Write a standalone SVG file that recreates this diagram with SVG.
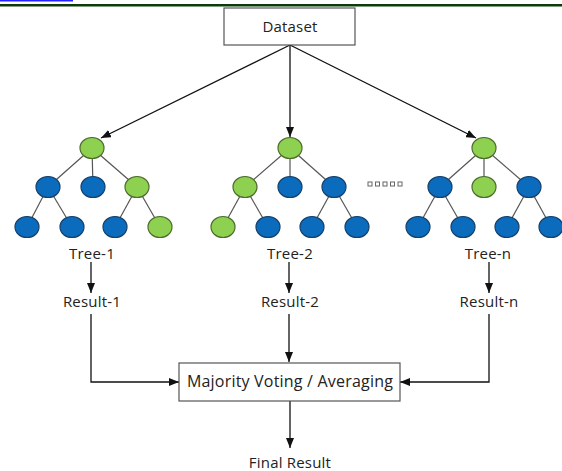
<svg xmlns="http://www.w3.org/2000/svg" width="562" height="471" viewBox="0 0 562 471">
<style>
text{font-family:"Open Sans","Noto Sans","Liberation Sans",sans-serif;font-size:15px;fill:#222;text-anchor:middle;dominant-baseline:central;letter-spacing:0.2px}
.box{fill:#fff;stroke:#555;stroke-width:1.2}
.c{stroke:#111;stroke-width:1.3;fill:none}
.e{stroke:#555;stroke-width:1.2}
.b{fill:#0b6bbd;stroke:#15406a;stroke-width:1.2}
.g{fill:#8ed150;stroke:#4d6b2c;stroke-width:1.2}
.d{fill:#fff;stroke:#666;stroke-width:1}
</style>
<defs>
<marker id="ah" markerWidth="10" markerHeight="8" refX="10" refY="4" orient="auto" markerUnits="userSpaceOnUse">
<path d="M0,0 L10,4 L0,8 Z" fill="#111"/>
</marker>
</defs>
<rect width="562" height="471" fill="#fff"/>
<rect x="0" y="0" width="73" height="1.5" fill="#2222ff"/>
<rect x="0" y="4" width="562" height="2.5" fill="#0b3a0b"/>

<g id="connectors">
<line class="c" x1="290" y1="45" x2="101" y2="138" marker-end="url(#ah)"/>
<line class="c" x1="290" y1="45" x2="290" y2="137" marker-end="url(#ah)"/>
<line class="c" x1="290" y1="45" x2="476" y2="138" marker-end="url(#ah)"/>
<line class="c" x1="91" y1="262" x2="91" y2="293" marker-end="url(#ah)"/>
<line class="c" x1="289" y1="262" x2="289" y2="293" marker-end="url(#ah)"/>
<line class="c" x1="489" y1="262" x2="489" y2="293" marker-end="url(#ah)"/>
<polyline class="c" points="91,314 91,382 179,382" marker-end="url(#ah)"/>
<line class="c" x1="289" y1="314" x2="289" y2="362" marker-end="url(#ah)"/>
<polyline class="c" points="489,314 489,382 400,382" marker-end="url(#ah)"/>
<line class="c" x1="290" y1="401" x2="290" y2="448" marker-end="url(#ah)"/>
</g>

<g id="dataset">
<rect class="box" x="224" y="8" width="131" height="37"/>
<text x="290" y="26">Dataset</text>
</g>

<g id="tree-1">
<g class="edges">
<line class="e" x1="92" y1="148" x2="48" y2="187"/>
<line class="e" x1="92" y1="148" x2="93" y2="187"/>
<line class="e" x1="92" y1="148" x2="137" y2="187"/>
<line class="e" x1="48" y1="187" x2="27" y2="227"/>
<line class="e" x1="48" y1="187" x2="72" y2="227"/>
<line class="e" x1="137" y1="187" x2="115" y2="227"/>
<line class="e" x1="137" y1="187" x2="160" y2="227"/>
</g>
<ellipse class="g" cx="92" cy="148" rx="12" ry="10.5"/>
<ellipse class="b" cx="48" cy="187" rx="12" ry="10.5"/>
<ellipse class="b" cx="93" cy="187" rx="12" ry="10.5"/>
<ellipse class="g" cx="137" cy="187" rx="12" ry="10.5"/>
<ellipse class="b" cx="27" cy="227" rx="12" ry="10.5"/>
<ellipse class="b" cx="72" cy="227" rx="12" ry="10.5"/>
<ellipse class="b" cx="115" cy="227" rx="12" ry="10.5"/>
<ellipse class="g" cx="160" cy="227" rx="12" ry="10.5"/>
<text x="92" y="253">Tree-1</text>
</g>

<g id="tree-2">
<g class="edges">
<line class="e" x1="290" y1="148" x2="245" y2="187"/>
<line class="e" x1="290" y1="148" x2="290" y2="187"/>
<line class="e" x1="290" y1="148" x2="334" y2="187"/>
<line class="e" x1="245" y1="187" x2="223" y2="227"/>
<line class="e" x1="245" y1="187" x2="268" y2="227"/>
<line class="e" x1="334" y1="187" x2="312" y2="227"/>
<line class="e" x1="334" y1="187" x2="357" y2="227"/>
</g>
<ellipse class="g" cx="290" cy="148" rx="12" ry="10.5"/>
<ellipse class="g" cx="245" cy="187" rx="12" ry="10.5"/>
<ellipse class="b" cx="290" cy="187" rx="12" ry="10.5"/>
<ellipse class="b" cx="334" cy="187" rx="12" ry="10.5"/>
<ellipse class="g" cx="223" cy="227" rx="12" ry="10.5"/>
<ellipse class="b" cx="268" cy="227" rx="12" ry="10.5"/>
<ellipse class="b" cx="312" cy="227" rx="12" ry="10.5"/>
<ellipse class="b" cx="357" cy="227" rx="12" ry="10.5"/>
<text x="290" y="253">Tree-2</text>
</g>

<g id="dots">
<rect class="d" x="368" y="182" width="4" height="4"/>
<rect class="d" x="375.5" y="182" width="4" height="4"/>
<rect class="d" x="383" y="182" width="4" height="4"/>
<rect class="d" x="390.5" y="182" width="4" height="4"/>
<rect class="d" x="398" y="182" width="4" height="4"/>
</g>

<g id="tree-n">
<g class="edges">
<line class="e" x1="484" y1="148" x2="440" y2="187"/>
<line class="e" x1="484" y1="148" x2="484" y2="187"/>
<line class="e" x1="484" y1="148" x2="529" y2="187"/>
<line class="e" x1="440" y1="187" x2="418" y2="227"/>
<line class="e" x1="440" y1="187" x2="463" y2="227"/>
<line class="e" x1="529" y1="187" x2="507" y2="227"/>
<line class="e" x1="529" y1="187" x2="551" y2="227"/>
</g>
<ellipse class="g" cx="484" cy="148" rx="12" ry="10.5"/>
<ellipse class="b" cx="440" cy="187" rx="12" ry="10.5"/>
<ellipse class="g" cx="484" cy="187" rx="12" ry="10.5"/>
<ellipse class="b" cx="529" cy="187" rx="12" ry="10.5"/>
<ellipse class="b" cx="418" cy="227" rx="12" ry="10.5"/>
<ellipse class="b" cx="463" cy="227" rx="12" ry="10.5"/>
<ellipse class="b" cx="507" cy="227" rx="12" ry="10.5"/>
<ellipse class="b" cx="551" cy="227" rx="12" ry="10.5"/>
<text x="488" y="253">Tree-n</text>
</g>

<g id="result-1"><text x="92" y="301">Result-1</text></g>
<g id="result-2"><text x="290" y="301">Result-2</text></g>
<g id="result-n"><text x="489" y="301">Result-n</text></g>

<g id="majority">
<rect class="box" x="179" y="363" width="221" height="38"/>
<text x="290" y="381" style="font-size:16px">Majority Voting / Averaging</text>
</g>

<g id="final-result"><text x="290" y="462">Final Result</text></g>
</svg>
